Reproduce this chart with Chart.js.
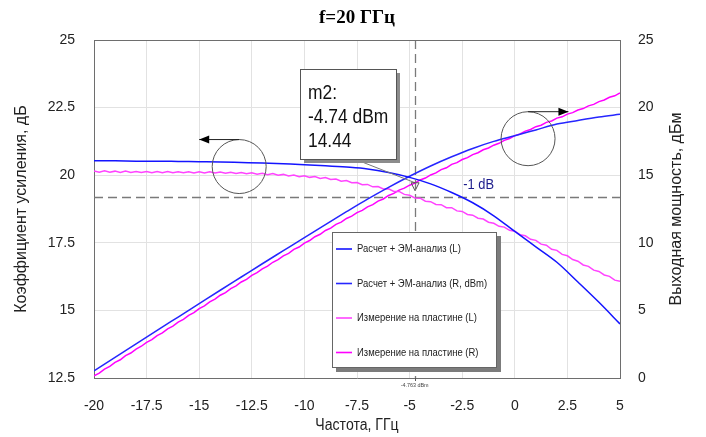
<!DOCTYPE html>
<html>
<head>
<meta charset="utf-8">
<script src="https://cdn.jsdelivr.net/npm/chart.js@4/dist/chart.umd.min.js"></script>
<style>
html,body{margin:0;padding:0;background:#fff;}
canvas{display:block;}
</style>
</head>
<body>
<canvas id="c" width="706" height="437"></canvas>
<script>
// ---- data ----
const inputCalc = [-20,-19,-18,-17,-16,-15,-14,-13,-12,-11,-10,-9,-8,-7,-6,-5,-4,-3,-2,-1,0,1,2,3,4,5];
const gainCalc  = [20.53,20.53,20.52,20.52,20.51,20.50,20.49,20.47,20.45,20.42,20.39,20.35,20.30,20.23,20.10,19.92,19.68,19.36,18.98,18.50,17.92,17.35,16.78,16.05,15.30,14.50];
const poutCalc  = [0.53,1.53,2.52,3.52,4.51,5.50,6.49,7.47,8.45,9.42,10.39,11.35,12.30,13.23,14.10,14.92,15.68,16.36,16.98,17.50,17.92,18.35,18.78,19.05,19.30,19.50];

const inputMeas = [-20,-19.75,-19.5,-19.25,-19,-18.75,-18.5,-18.25,-18,-17.75,-17.5,-17.25,-17,-16.75,-16.5,-16.25,-16,-15.75,-15.5,-15.25,-15,-14.75,-14.5,-14.25,-14,-13.75,-13.5,-13.25,-13,-12.75,-12.5,-12.25,-12,-11.75,-11.5,-11.25,-11,-10.75,-10.5,-10.25,-10,-9.75,-9.5,-9.25,-9,-8.75,-8.5,-8.25,-8,-7.75,-7.5,-7.25,-7,-6.75,-6.5,-6.25,-6,-5.75,-5.5,-5.25,-5,-4.75,-4.5,-4.25,-4,-3.75,-3.5,-3.25,-3,-2.75,-2.5,-2.25,-2,-1.75,-1.5,-1.25,-1,-0.75,-0.5,-0.25,0,0.25,0.5,0.75,1,1.25,1.5,1.75,2,2.25,2.5,2.75,3,3.25,3.5,3.75,4,4.25,4.5,4.75,5];
const gainMeas = [20.16,20.11,20.16,20.11,20.15,20.10,20.15,20.10,20.14,20.10,20.14,20.09,20.14,20.09,20.14,20.09,20.13,20.09,20.13,20.08,
20.13,20.08,20.13,20.08,20.12,20.07,20.11,20.06,20.10,20.05,20.09,20.04,20.07,20.02,20.06,20.00,20.03,19.97,20.01,19.94,
19.98,19.92,19.95,19.88,19.91,19.84,19.86,19.78,19.80,19.72,19.73,19.65,19.66,19.57,19.58,19.49,19.50,19.40,19.40,19.29,
19.26,19.16,19.15,19.04,19.02,18.92,18.91,18.80,18.80,18.68,18.66,18.55,18.52,18.41,18.38,18.26,18.22,18.11,18.08,17.96,
17.93,17.80,17.76,17.63,17.59,17.45,17.41,17.26,17.22,17.07,17.02,16.88,16.82,16.68,16.63,16.49,16.44,16.31,16.26,16.12,16.08];
const poutMeas = [0.16,0.36,0.66,0.86,1.15,1.35,1.65,1.85,2.14,2.35,2.64,2.84,3.14,3.34,3.64,3.84,4.13,4.34,4.63,4.83,
5.13,5.33,5.63,5.83,6.12,6.32,6.61,6.81,7.10,7.30,7.59,7.79,8.07,8.27,8.56,8.75,9.03,9.22,9.51,9.69,
9.98,10.17,10.45,10.63,10.91,11.09,11.36,11.53,11.80,11.97,12.23,12.40,12.66,12.82,13.08,13.24,13.50,13.65,13.90,14.04,
14.26,14.41,14.65,14.79,15.02,15.17,15.41,15.55,15.80,15.93,16.16,16.30,16.52,16.66,16.88,17.01,17.22,17.36,17.58,17.71,
17.93,18.05,18.26,18.38,18.59,18.70,18.91,19.01,19.22,19.32,19.52,19.63,19.82,19.93,20.13,20.24,20.44,20.56,20.76,20.87,21.08];

const seriesNames = ['Расчет + ЭМ-анализ (L)','Расчет + ЭМ-анализ (R, dBm)','Измерение на пластине (L)','Измерение на пластине (R)'];
const xTickValues = [-20,-17.5,-15,-12.5,-10,-7.5,-5,-2.5,0,2.5,5];
const markerX = -4.74, markerY = 14.44, markerText = ['m2:','-4.74 dBm','14.44'];
const cursorX = -4.763, cursorLabel = '-4.763 dBm';
const minus1dBLevel = 19.18, minus1dBLabel = '-1 dB';

// ---- styling ----
const FONT = "'Liberation Sans',Arial,sans-serif";
const colors = ['#1414ff','#2626ff','#ff44ff','#ff00ff'];

function pts(xs, ys){ return xs.map((x,i)=>({x:x, y:ys[i]})); }

function txt(ctx, s, x, y, font, sx, align, rot){
  ctx.save();
  ctx.translate(x, y);
  if (rot) ctx.rotate(rot);
  ctx.scale(sx, 1);
  ctx.font = font;
  ctx.textAlign = align || 'left';
  ctx.textBaseline = 'middle';
  ctx.fillText(s, 0, 0);
  ctx.restore();
}

const deco = {
  id:'deco',
  beforeDatasetsDraw(chart){
    const {ctx, chartArea:a, scales} = chart;
    ctx.save();
    ctx.strokeStyle = '#7a7a7a';
    ctx.lineWidth = 1.3;
    ctx.setLineDash([9,5]);
    const y1 = Math.round(scales.yL.getPixelForValue(minus1dBLevel))+0.5;
    ctx.beginPath(); ctx.moveTo(a.left, y1); ctx.lineTo(a.right, y1); ctx.stroke();
    const x1 = Math.round(scales.x.getPixelForValue(cursorX))+0.5;
    ctx.beginPath(); ctx.moveTo(x1, a.top); ctx.lineTo(x1, a.bottom); ctx.stroke();
    ctx.restore();
  },
  afterDatasetsDraw(chart){
    const {ctx, chartArea:a, scales} = chart;
    const sx = scales.x, yL = scales.yL, yR = scales.yR;
    ctx.save();
    // top border
    ctx.strokeStyle = '#6e6e6e'; ctx.lineWidth = 1;
    ctx.beginPath(); ctx.moveTo(a.left, a.top+0.5); ctx.lineTo(a.right, a.top+0.5); ctx.stroke();

    // circles and arrows
    function circleArrow(cx, cy, r, ax){
      ctx.strokeStyle = '#555'; ctx.lineWidth = 1;
      ctx.beginPath(); ctx.arc(cx, cy, r, 0, Math.PI*2); ctx.stroke();
      ctx.strokeStyle = '#222';
      ctx.beginPath(); ctx.moveTo(cx, cy-r); ctx.lineTo(ax, cy-r); ctx.stroke();
      const dir = ax < cx ? -1 : 1;
      ctx.fillStyle = '#000';
      ctx.beginPath(); ctx.moveTo(ax, cy-r); ctx.lineTo(ax-dir*10, cy-r-4); ctx.lineTo(ax-dir*10, cy-r+4); ctx.closePath(); ctx.fill();
    }
    circleArrow(sx.getPixelForValue(-13.1), yL.getPixelForValue(20.32), 27, sx.getPixelForValue(-15));
    circleArrow(sx.getPixelForValue(0.63), yR.getPixelForValue(17.7), 27, sx.getPixelForValue(2.55));

    // -1 dB label
    ctx.fillStyle = '#1c1c8c';
    txt(ctx, minus1dBLabel, sx.getPixelForValue(-2.45), yL.getPixelForValue(19.62), '14px ' + FONT, 0.92);

    // marker
    const mx = sx.getPixelForValue(markerX), my = yR.getPixelForValue(markerY);
    ctx.strokeStyle = '#777'; ctx.lineWidth = 1;
    ctx.beginPath(); ctx.moveTo(357, 160); ctx.lineTo(mx, my); ctx.stroke();
    ctx.strokeStyle = '#555';
    ctx.beginPath(); ctx.moveTo(mx-4, my); ctx.lineTo(mx+4, my); ctx.lineTo(mx, my+8); ctx.closePath(); ctx.stroke();

    // marker box
    ctx.fillStyle = '#8c8c8c';
    ctx.fillRect(304, 73, 96, 90);
    ctx.fillStyle = '#fff';
    ctx.fillRect(300.5, 69.5, 96, 90);
    ctx.strokeStyle = '#555'; ctx.strokeRect(300.5, 69.5, 96, 90);
    ctx.fillStyle = '#111';
    const mf = '20px ' + FONT;
    txt(ctx, markerText[0], 308, 93, mf, 0.87);
    txt(ctx, markerText[1], 308, 117, mf, 0.87);
    txt(ctx, markerText[2], 308, 141, mf, 0.87);

    // legend box
    ctx.fillStyle = '#7c7c7c';
    ctx.fillRect(336, 236, 165, 136);
    ctx.fillStyle = '#fff';
    ctx.fillRect(332.5, 232.5, 164, 135);
    ctx.strokeStyle = '#666'; ctx.strokeRect(332.5, 232.5, 164, 135);
    const ly = [249, 283.5, 318, 352.5];
    chart.data.datasets.forEach((ds, i) => {
      ctx.strokeStyle = ds.borderColor; ctx.lineWidth = 1.6;
      ctx.beginPath(); ctx.moveTo(336, ly[i]); ctx.lineTo(352, ly[i]); ctx.stroke();
      ctx.fillStyle = '#222';
      txt(ctx, ds.label, 357, ly[i], '11px ' + FONT, 0.86);
    });

    // small cursor label under axis
    ctx.fillStyle = '#444';
    txt(ctx, cursorLabel, sx.getPixelForValue(cursorX), a.bottom + 7, '6px ' + FONT, 0.9, 'center');
    ctx.strokeStyle = '#555'; ctx.lineWidth = 1;
    const cx = Math.round(sx.getPixelForValue(cursorX))+0.5;
    ctx.beginPath(); ctx.moveTo(cx, a.bottom); ctx.lineTo(cx, a.bottom+3); ctx.stroke();

    // titles
    ctx.fillStyle = '#000';
    txt(ctx, 'f=20 ГГц', (a.left+a.right)/2, 18, 'bold 19px "Liberation Serif","Times New Roman",serif', 1, 'center');
    ctx.fillStyle = '#222';
    txt(ctx, 'Частота, ГГц', (a.left+a.right)/2, 426, '16px ' + FONT, 0.88, 'center');
    const midY = (a.top + a.bottom)/2;
    txt(ctx, 'Коэффициент усиления, дБ', 22, midY, '16px ' + FONT, 1, 'center', -Math.PI/2);
    txt(ctx, 'Выходная мощность, дБм', 677, midY, '16px ' + FONT, 1, 'center', -Math.PI/2);
    ctx.restore();
  }
};

const tickFont = {family: FONT, size: 14};
new Chart(document.getElementById('c'), {
  type: 'line',
  data: {
    datasets: [
      {label: seriesNames[0], data: pts(inputCalc, gainCalc), yAxisID:'yL', borderColor: colors[0], cubicInterpolationMode:'monotone'},
      {label: seriesNames[1], data: pts(inputCalc, poutCalc), yAxisID:'yR', borderColor: colors[1], cubicInterpolationMode:'monotone'},
      {label: seriesNames[2], data: pts(inputMeas, gainMeas), yAxisID:'yL', borderColor: colors[2], tension:0},
      {label: seriesNames[3], data: pts(inputMeas, poutMeas), yAxisID:'yR', borderColor: colors[3], tension:0}
    ]
  },
  options: {
    responsive:false, animation:false, devicePixelRatio:1,
    parsing:false,
    elements:{ point:{radius:0}, line:{borderWidth:1.5, fill:false} },
    layout:{ padding:{top:40, left:0, right:0, bottom:0} },
    plugins:{ legend:{display:false}, tooltip:{enabled:false}, title:{display:false} },
    scales:{
      x:{ type:'linear', min:-20, max:5,
          afterBuildTicks: s => { s.ticks = xTickValues.map(v=>({value:v})); },
          afterFit: s => { s.height = 59; },
          ticks:{ autoSkip:false, maxRotation:0, padding:20, color:'#222', font:tickFont, callback:v=>String(v) },
          grid:{ color:'#e2e2e2', drawTicks:false },
          border:{ color:'#6e6e6e' } },
      yL:{ position:'left', min:12.5, max:25,
          ticks:{ stepSize:2.5, padding:19, color:'#222', font:tickFont, callback:v=>String(v) },
          afterFit: s => { s.width = 94; },
          grid:{ color:'#e2e2e2', drawTicks:false },
          border:{ color:'#6e6e6e' } },
      yR:{ position:'right', min:0, max:25,
          ticks:{ stepSize:5, padding:18, color:'#222', font:tickFont, callback:v=>String(v) },
          afterFit: s => { s.width = 86; },
          grid:{ display:false, drawTicks:false },
          border:{ color:'#6e6e6e' } }
    }
  },
  plugins:[deco]
});
</script>
</body>
</html>
